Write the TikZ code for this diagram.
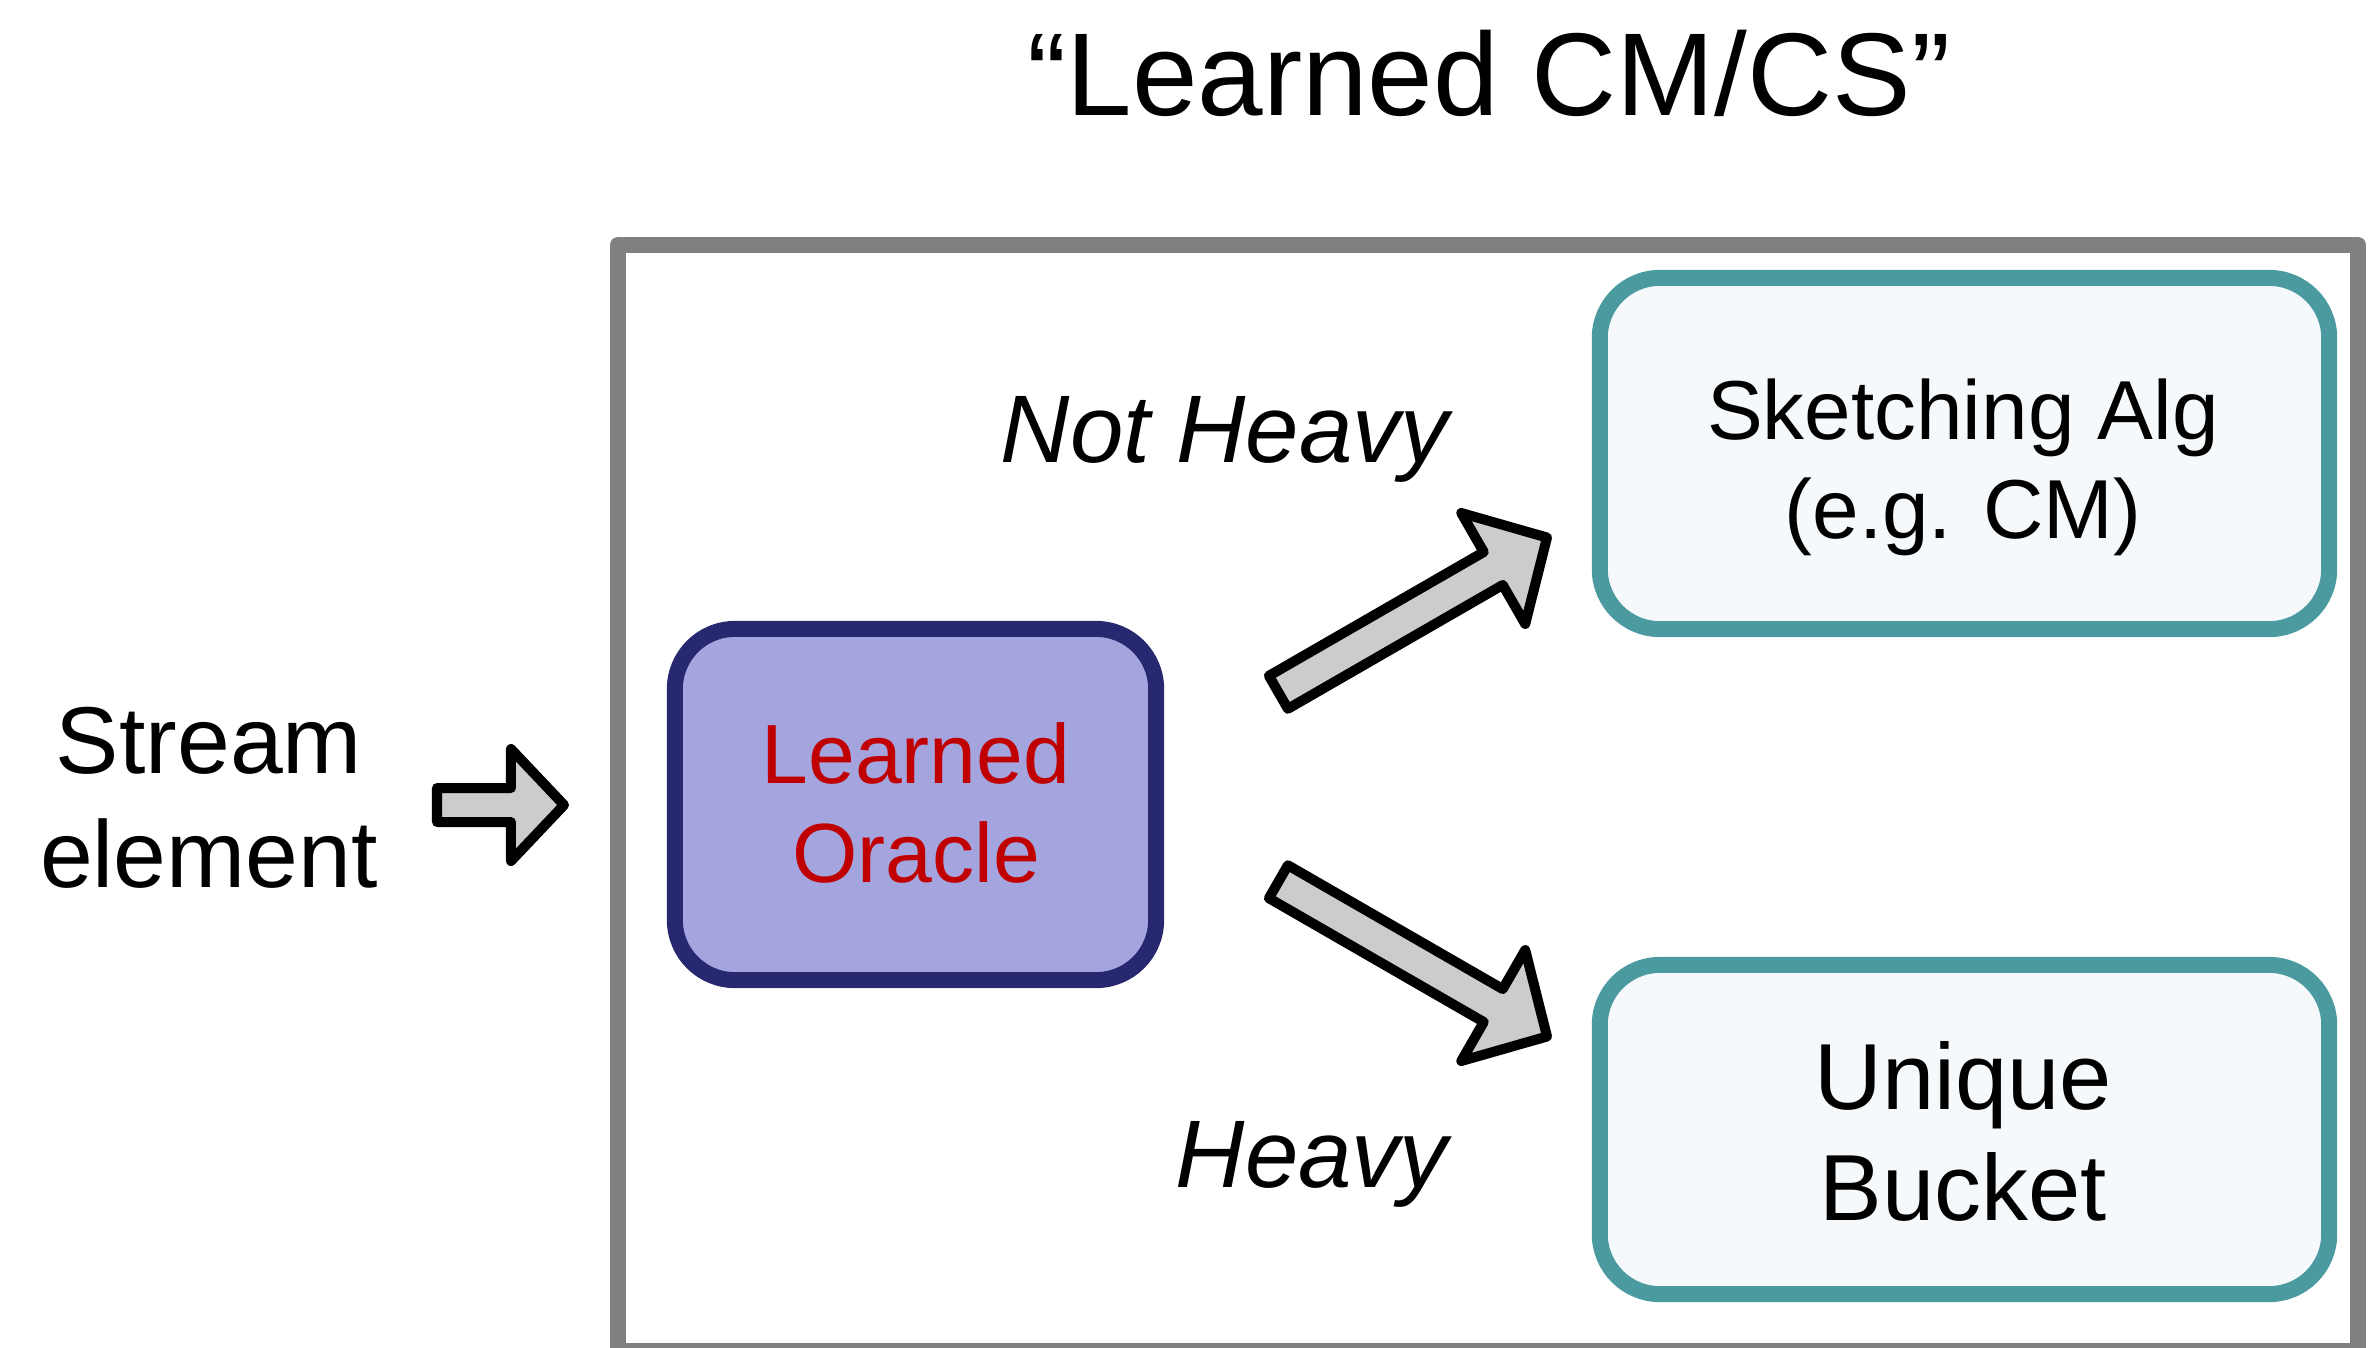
\documentclass[tikz,border=0pt]{standalone}
\usepackage{fontspec}
\setmainfont{Liberation Sans}
\usetikzlibrary{calc}

\definecolor{framegray}{HTML}{808080}
\definecolor{navyline}{HTML}{27286F}
\definecolor{lavender}{HTML}{A4A4DF}
\definecolor{oraclered}{HTML}{C00000}
\definecolor{boxteal}{HTML}{4A9AA0}
\definecolor{boxfill}{HTML}{F5F9FB}
\definecolor{arrowgray}{HTML}{CCCCCC}

\tikzset{
  frame/.style={draw=framegray, line width=0.16cm, line join=round},
  oraclebox/.style={draw=navyline, fill=lavender, line width=0.16cm,
    rounded corners=0.6cm, inner sep=0pt},
  algbox/.style={draw=boxteal, fill=boxfill, line width=0.16cm,
    rounded corners=0.6cm, inner sep=0pt},
  % two-line labels: the base anchor sits on the last line's baseline
  lbl/.style={inner sep=0pt, align=center, anchor=base},
  fatarrow/.style={draw=black, fill=arrowgray, line width=0.1cm, line join=round},
}

% block arrow from tail #1 to tip #2: shaft half width #3, head half width #4, head length #5
\newcommand\fatarrowpath[5]{%
  \coordinate (#1-hb) at ($(#2)!#5!(#1)$);
  \draw[fatarrow]
    ($(#1)!#3!-90:(#2)$) -- ($(#1-hb)!#3!-90:(#2)$) -- ($(#1-hb)!#4!-90:(#2)$)
    -- (#2) -- ($(#1-hb)!#4!90:(#2)$) -- ($(#1-hb)!#3!90:(#2)$)
    -- ($(#1)!#3!90:(#2)$) -- cycle;
}

\begin{document}
\begin{tikzpicture}[x=0.01cm, y=-0.01cm]
  \useasboundingbox (0,0) rectangle (2377,1347);
  \clip (0,0) rectangle (2377,1347);

  % title
  \node[lbl, font={\fontsize{33.5}{40}\selectfont}] (title) at (1489,115) {“Learned CM/CS”};

  % outer frame (bottom edge runs past the page)
  \draw[frame] (618,245) rectangle (2358,1351);

  % input label
  \node[lbl, font={\fontsize{27}{32.4}\selectfont}] (stream) at (209,887) {Stream\\element};

  % boxes
  \node[oraclebox, minimum width=4.81cm, minimum height=3.51cm] (oracle) at (915.5,804.5) {};
  \node[algbox, minimum width=7.29cm, minimum height=3.51cm] (sketch) at (1964.5,453.5) {};
  \node[algbox, minimum width=7.29cm, minimum height=3.29cm] (unique) at (1964.5,1129.5) {};

  \node[lbl, text=oraclered, font={\fontsize{23.9}{27.9}\selectfont}] (oracletxt)
    at (916,882) {Learned\\Oracle};
  \node[lbl, font={\fontsize{23.8}{27.9}\selectfont}] (sketchtxt)
    at (1963,538) {Sketching Alg\\(e.g. CM)};
  \node[lbl, font={\fontsize{26.7}{31.3}\selectfont}] (uniquetxt)
    at (1963,1220) {Unique\\Bucket};

  % branch labels
  \node[inner sep=0pt, anchor=base west, font={\fontsize{27.3}{32}\selectfont\itshape}]
    (notheavy) at (1000,462) {Not Heavy};
  \node[inner sep=0pt, anchor=base west, font={\fontsize{27.3}{32}\selectfont\itshape}]
    (heavy) at (1175,1187) {Heavy};

  % block arrows
  \coordinate (inTail) at (437,805);
  \coordinate (inTip) at (564,805);
  \coordinate (upTail) at (1278.4,692.3);
  \coordinate (upTip) at (1547,537.5);
  \coordinate (dnTail) at (1278.4,881.7);
  \coordinate (dnTip) at (1547,1036.5);

  \fatarrowpath{inTail}{inTip}{0.17cm}{0.56cm}{0.53cm}
  \fatarrowpath{upTail}{upTip}{0.19cm}{0.64cm}{0.62cm}
  \fatarrowpath{dnTail}{dnTip}{0.19cm}{0.64cm}{0.62cm}
\end{tikzpicture}
\end{document}
